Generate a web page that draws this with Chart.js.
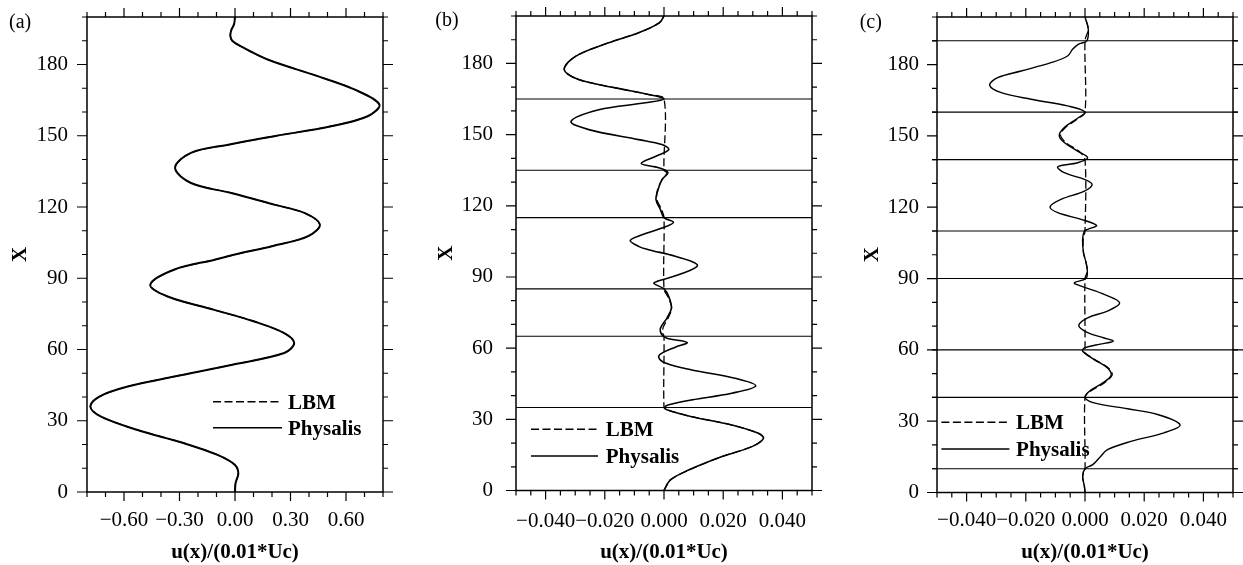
<!DOCTYPE html>
<html>
<head>
<meta charset="utf-8">
<title>u(x) profiles: LBM vs Physalis</title>
<script src="https://cdn.jsdelivr.net/npm/chart.js@4.4.0/dist/chart.umd.min.js"></script>
<style>
    html, body { margin: 0; padding: 0; background: #fff; overflow: hidden; }
    #fig { position: relative; width: 1243px; height: 565px; }
    #fig canvas { position: absolute; top: 0; }
</style>
</head>
<body>
<div id="fig">
    <canvas id="chartA" width="396" height="565" style="left:0px"></canvas>
    <canvas id="chartB" width="396" height="565" style="left:429px"></canvas>
    <canvas id="chartC" width="396" height="565" style="left:850px"></canvas>
</div>
<script>
// ---- data (X position, u value) ----

// (a)
const yPhysA = [0, 3.7, 7.9, 11.4, 15.6, 20.5, 26.1, 31.7, 36, 40.2, 44.4, 48.6, 53.5, 58.5, 62.7, 66.9, 71.8, 76.7, 82.3, 87.3,
    93.6, 97.8, 100, 103.5, 107.6, 112.6, 117.5, 121, 125.9, 130.1, 136.5, 142.8, 146.3, 149.8, 154, 158.2, 163.2, 169.5, 175.1, 182.1,
    187.7, 190, 192, 194.5, 197, 200];
const uPhysA = [0, 0.003, 0.018, 0, -0.094, -0.274, -0.526, -0.724, -0.782, -0.733, -0.58, -0.328, -0.02, 0.266, 0.32, 0.266, 0.104, -0.112, -0.364, -0.458,
    -0.33, -0.11, 0, 0.2, 0.393, 0.459, 0.375, 0.212, -0.02, -0.238, -0.324, -0.238, -0.03, 0.212, 0.519, 0.717, 0.78, 0.645, 0.447, 0.176,
    0.03, -0.015, -0.025, -0.02, -0.005, 0];
// LBM lies exactly on top of Physalis in (a)
const yLbmA = yPhysA;
const uLbmA = uPhysA;

// (b)
const yPhysB = [0, 4.4, 8.6, 14.3, 18.5, 22, 24.1, 27.6, 31.1, 34, 35, 36.1, 38.2, 41, 44.1, 47.3, 50.8, 53.7, 56.2, 57.9,
    60.4, 62.4, 64.2, 65.6, 68.4, 72.7, 76.9, 81.8, 85, 87.3, 88.4, 90.9, 94.9, 98.7, 101.5, 102.9, 105.4, 107.8, 110.6, 113,
    115, 118.4, 122.6, 126.8, 131, 133.8, 135, 136.4, 137.8, 140.8, 143.7, 145.8, 147.9, 152.1, 155.6, 160.5, 163.4, 165, 166.9, 169.7,
    173.2, 177.4, 183, 188.7, 192.9, 197.1, 200];
const uPhysB = [0, 0.0021, 0.0083, 0.0196, 0.0297, 0.0336, 0.0319, 0.0229, 0.0094, 0.001, 0.0002, 0.0016, 0.0094, 0.0229, 0.031, 0.024, 0.0094, 0.0005, -0.0018, -0.0007,
    0.0038, 0.0078, 0.001, -0.0007, -0.0012, 0.001, 0.0025, 0.0016, 0, -0.0034, -0.0018, 0.0049, 0.0113, 0.0038, -0.0052, -0.0086, -0.0114, -0.0074, -0.0007, 0.0032,
    0, -0.0012, -0.0027, -0.002, -0.0007, 0.0013, 0.0005, -0.0029, -0.0077, -0.0029, 0.0016, -0.0007, -0.0086, -0.0254, -0.0314, -0.022, -0.0063, 0, -0.0052, -0.0164,
    -0.0288, -0.0337, -0.0299, -0.0187, -0.0086, -0.0016, 0];
const yLbmB = [0, 4.4, 8.6, 14.3, 18.5, 22, 24.1, 27.6, 31.1, 34, 35, 65, 66.5, 69, 73, 77, 81.5, 85, 115, 118.4,
    122.6, 126.8, 131, 133.8, 135, 165, 166.9, 169.7, 173.2, 177.4, 183, 188.7, 192.9, 197.1, 200];
const uLbmB = [0, 0.0021, 0.0083, 0.0196, 0.0297, 0.0336, 0.0319, 0.0229, 0.0094, 0.001, 0, 0, -0.0005, -0.0002, 0.0015, 0.0026, 0.0014, 0, 0, -0.0008,
    -0.0024, -0.0022, -0.0006, 0.001, 0, 0, -0.0052, -0.0164, -0.0288, -0.0337, -0.0299, -0.0187, -0.0086, -0.0016, 0];
const hLinesB = [35, 65, 85, 115, 135, 165];

// (c)
const yPhysC = [0, 2.6, 6.8, 10, 11.7, 14.5, 18, 21.5, 25.1, 28.5, 32.8, 35.2, 37.7, 40, 42.6, 46.1, 49.2, 52.4, 55.9, 59.4,
    60.8, 62.2, 63.6, 65, 67.2, 70.2, 73.5, 76.3, 79.8, 83.3, 86.8, 88.2, 90, 93, 97, 100.8, 106.4, 110, 110.7, 112.3,
    114.9, 117.7, 120.2, 123.3, 126.8, 129.6, 131.7, 134.5, 137, 138.7, 140.8, 143.6, 147.2, 150.2, 153.5, 157, 160, 162.6, 165.4, 168.2,
    171.3, 174.5, 177.3, 180.8, 183.6, 186.4, 188.5, 190, 194.9, 200];
const uPhysC = [0, -0.0002, -0.0008, 0, 0.0026, 0.0048, 0.0076, 0.0155, 0.0267, 0.0321, 0.0245, 0.0144, 0.0031, 0, 0.0015, 0.006, 0.0088, 0.0076, 0.0031, -0.0008,
    -0.0002, 0.0043, 0.0095, 0.0065, 0.0009, -0.0021, 0.0009, 0.0076, 0.0117, 0.0065, -0.0013, -0.0036, 0.0003, 0.0008, 0.0003, -0.0005, -0.0008, -0.0002, 0.0009, 0.0039,
    -0.0013, -0.0092, -0.0118, -0.0081, -0.0002, 0.0024, -0.0002, -0.007, -0.0092, -0.0025, 0.0009, -0.0025, -0.007, -0.0087, -0.007, -0.003, 0, -0.0059, -0.0182, -0.0283,
    -0.0322, -0.0295, -0.0216, -0.0115, -0.0059, -0.0042, -0.0023, 0.0006, 0.0011, 0];
const yLbmC = [0, 2.6, 6.8, 10, 40, 42.6, 46.1, 49.5, 52.4, 55.9, 59.2, 60, 90, 93, 97, 100.8, 106.4, 110, 140, 143.6,
    147.2, 150.5, 153.5, 157, 160, 190, 194.9, 200];
const uLbmC = [0, -0.0002, -0.0008, 0, 0, 0.0018, 0.0065, 0.0092, 0.0079, 0.0033, -0.0004, 0, 0, 0.0008, 0.0003, -0.0005, -0.0006, 0, 0, -0.0021,
    -0.0065, -0.0083, -0.0066, -0.0027, 0, 0, 0.0011, 0];
const hLinesC = [10, 40, 60, 90, 110, 140, 160, 190];

// axis ticks
const xTicksA = [-0.6, -0.3, 0, 0.3, 0.6];
const xTicksBC = [-0.04, -0.02, 0, 0.02, 0.04];
const yTicks = [0, 30, 60, 90, 120, 150, 180];

// ---- drawing ----
const SERIF = "'Liberation Serif', 'Times New Roman', Times, serif";

function toPts(ys, us) {
    return ys.map((y, i) => ({ x: us[i], y: y }));
}

function fmtTick(v, dec) {
    const s = Math.abs(v).toFixed(dec);
    return v < 0 ? '\u2212' + s : s;
}

// frame, outward tick marks on all four sides, panel tag and legend
const framePlugin = {
    id: 'frame',
    afterDatasetsDraw(chart, args, o) {
        const { ctx, chartArea: a, scales: { x, y } } = chart;
        ctx.save();
        ctx.strokeStyle = '#000';
        ctx.lineWidth = 1.2;
        ctx.beginPath();
        const xTick = (v, len) => {
            const p = x.getPixelForValue(v);
            ctx.moveTo(p, a.bottom); ctx.lineTo(p, a.bottom + len);
            ctx.moveTo(p, a.top); ctx.lineTo(p, a.top - len);
        };
        const yTick = (v, len) => {
            const p = y.getPixelForValue(v);
            ctx.moveTo(a.left, p); ctx.lineTo(a.left - len, p);
            ctx.moveTo(a.right, p); ctx.lineTo(a.right + len, p);
        };
        for (let k = Math.round(x.min / o.xMinor); k * o.xMinor <= x.max + 1e-9; k++) xTick(k * o.xMinor, 5);
        for (let k = 0; k * o.yMinor <= y.max + 1e-9; k++) yTick(k * o.yMinor, 5);
        x.ticks.forEach(t => xTick(t.value, 9));
        y.ticks.forEach(t => yTick(t.value, 10));
        ctx.stroke();

        ctx.lineWidth = 1.5;
        ctx.strokeRect(a.left, a.top, a.right - a.left, a.bottom - a.top);

        // panel tag
        ctx.fillStyle = '#000';
        ctx.textAlign = 'left';
        ctx.textBaseline = 'alphabetic';
        ctx.font = '20px ' + SERIF;
        ctx.fillText(o.tag, a.left + o.tagDx, o.tagY);

        // legend
        const lg = o.legend;
        ctx.font = 'bold 21px ' + SERIF;
        ['LBM', 'Physalis'].forEach((name, i) => {
            const ds = chart.data.datasets.find(d => d.label === name);
            const yy = a.top + lg.y + i * lg.gap;
            const x0 = a.left + lg.x;
            ctx.beginPath();
            ctx.lineWidth = 1.4;
            ctx.setLineDash(ds.borderDash || []);
            ctx.moveTo(x0, yy);
            ctx.lineTo(x0 + lg.len, yy);
            ctx.stroke();
            ctx.setLineDash([]);
            ctx.fillText(name, x0 + lg.len + lg.textGap, yy + 7);
        });
        ctx.restore();
    }
};

const panels = [
    { id: 'chartA', tag: '(a)', ys: yPhysA, us: uPhysA, lys: yLbmA, lus: uLbmA, hLines: [],
      xMin: -0.8, xMax: 0.8, xTicks: xTicksA, xMinor: 0.1, xDec: 2,
      top: 17, bottomH: 73, xLabelPad: 15.4, yLabelPad: 19, yTitlePad: 8.2, curveW: 2,
      lineSpan: 0.8, clip: true, tagDx: -78, tagY: 28,
      legend: { x: 126, y: 384.7, gap: 26, len: 69, textGap: 6 } },
    { id: 'chartB', tag: '(b)', ys: yPhysB, us: uPhysB, lys: yLbmB, lus: uLbmB, hLines: hLinesB,
      xMin: -0.05, xMax: 0.05, xTicks: xTicksBC, xMinor: 0.005, xDec: 3,
      top: 16, bottomH: 74.5, xLabelPad: 17.9, yLabelPad: 23, yTitlePad: 5.1, curveW: 1.6,
      lineSpan: 0.05, clip: true, tagDx: -80.7, tagY: 26,
      legend: { x: 15, y: 413.3, gap: 26.7, len: 67, textGap: 7.7 } },
    { id: 'chartC', tag: '(c)', ys: yPhysC, us: uPhysC, lys: yLbmC, lus: uLbmC, hLines: hLinesC,
      xMin: -0.05, xMax: 0.05, xTicks: xTicksBC, xMinor: 0.005, xDec: 3,
      top: 17, bottomH: 72.5, xLabelPad: 15.7, yLabelPad: 18, yTitlePad: 9.9, curveW: 1.4,
      lineSpan: 0.0517, clip: false, tagDx: -77.3, tagY: 27.7,
      legend: { x: 4.4, y: 405.3, gap: 26.7, len: 68, textGap: 6.7 } }
];

panels.forEach(p => {
    const datasets = [
        { label: 'Physalis', data: toPts(p.ys, p.us), borderColor: '#000', borderWidth: p.curveW,
          tension: 0.35, showLine: true, pointRadius: 0, pointHoverRadius: 0, fill: false },
        { label: 'LBM', data: toPts(p.lys, p.lus), borderColor: '#000', borderWidth: 1.3, borderDash: [8, 3.5],
          tension: 0.3, showLine: true, pointRadius: 0, pointHoverRadius: 0, fill: false }
    ];
    p.hLines.forEach(h => {
        datasets.push({ data: [{ x: -p.lineSpan, y: h }, { x: p.lineSpan, y: h }], borderColor: '#000', borderWidth: 1.1,
            showLine: true, pointRadius: 0, pointHoverRadius: 0, clip: p.clip ? undefined : false });
    });

    new Chart(document.getElementById(p.id), {
        type: 'scatter',
        data: { datasets: datasets },
        plugins: [framePlugin],
        options: {
            responsive: false,
            animation: false,
            devicePixelRatio: 1,
            events: [],
            layout: { padding: { top: p.top, right: 13, bottom: 0, left: 0 } },
            plugins: {
                legend: { display: false },
                tooltip: { enabled: false },
                frame: { tag: p.tag, tagDx: p.tagDx, tagY: p.tagY, legend: p.legend, xMinor: p.xMinor, yMinor: 10 }
            },
            scales: {
                x: {
                    type: 'linear', min: p.xMin, max: p.xMax,
                    afterBuildTicks: s => { s.ticks = p.xTicks.map(v => ({ value: v })); },
                    afterFit: s => { s.height = p.bottomH; s.paddingLeft = 0; s.paddingRight = 0; },
                    grid: { display: false, drawTicks: false },
                    border: { display: false },
                    ticks: {
                        autoSkip: false, maxRotation: 0, minRotation: 0, padding: p.xLabelPad, color: '#000',
                        font: { family: SERIF, size: 21 },
                        callback: v => fmtTick(v, p.xDec)
                    },
                    title: {
                        display: true, text: 'u(x)/(0.01*Uc)', color: '#000',
                        font: { family: SERIF, size: 21, weight: 'bold' },
                        padding: { top: 0, bottom: 0 }
                    }
                },
                y: {
                    type: 'linear', min: 0, max: 200,
                    afterBuildTicks: s => { s.ticks = yTicks.map(v => ({ value: v })); },
                    // keep the plot box where the figure has it (no extra room for label overhang)
                    afterFit: s => { s.width = 87; s.paddingTop = 0; s.paddingBottom = 0; },
                    grid: { display: false, drawTicks: false },
                    border: { display: false },
                    ticks: {
                        autoSkip: false, padding: p.yLabelPad, color: '#000',
                        font: { family: SERIF, size: 21 },
                        callback: v => String(v)
                    },
                    title: {
                        display: true, text: 'X', color: '#000',
                        font: { family: SERIF, size: 21, weight: 'bold' },
                        padding: { top: p.yTitlePad, bottom: 0 }
                    }
                }
            }
        }
    });
});
</script>
</body>
</html>
